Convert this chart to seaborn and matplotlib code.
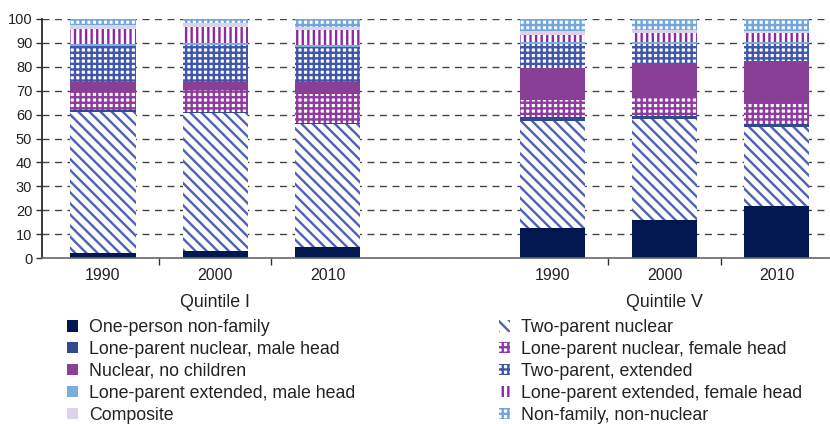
import numpy as np
import pandas as pd
import matplotlib
matplotlib.use("Agg")
import matplotlib.pyplot as plt
from matplotlib.patches import Patch
from matplotlib.transforms import blended_transform_factory
import seaborn as sns

# categories (bottom to top of each stack)
categories = [
    "One-person non-family",
    "Two-parent nuclear",
    "Lone-parent nuclear, male head",
    "Lone-parent nuclear, female head",
    "Nuclear, no children",
    "Two-parent, extended",
    "Lone-parent extended, male head",
    "Lone-parent extended, female head",
    "Composite",
    "Non-family, non-nuclear",
]
years = ["1990", "2000", "2010"]
groups = ["Quintile I", "Quintile V"]

# shares (%) per bar: Q1 1990, Q1 2000, Q1 2010, Q5 1990, Q5 2000, Q5 2010
one_person      = [2.0, 3.0, 4.8, 12.4, 16.0, 21.8]
two_parent_nuc  = [59.0, 57.5, 51.2, 45.1, 42.0, 32.9]
lone_nuc_male   = [0.8, 0.7, 0.6, 1.7, 1.5, 1.4]
lone_nuc_female = [8.2, 9.2, 12.2, 6.9, 7.5, 9.0]
nuclear_no_kids = [3.8, 3.4, 5.0, 13.6, 14.5, 17.4]
two_parent_ext  = [14.8, 15.2, 14.3, 9.7, 8.0, 6.9]
lone_ext_male   = [0.9, 0.9, 0.9, 1.0, 1.0, 0.9]
lone_ext_female = [6.5, 6.8, 6.2, 2.8, 3.5, 3.7]
composite       = [1.3, 1.5, 1.6, 1.6, 1.2, 1.1]
non_family      = [2.7, 1.8, 3.2, 5.2, 4.8, 4.9]

series = [one_person, two_parent_nuc, lone_nuc_male, lone_nuc_female,
          nuclear_no_kids, two_parent_ext, lone_ext_male, lone_ext_female,
          composite, non_family]

# look of each layer: (colour, hatch)
styles = [
    ("#02174F", None),
    ("#4B62B5", "\\\\\\"),
    ("#33498F", None),
    ("#8E3A9F", "+++"),
    ("#8A3F96", None),
    ("#3F56AA", "+++"),
    ("#7AAEDF", None),
    ("#8B2A9E", "|||"),
    ("#DDD2E8", None),
    ("#6FA6DC", "+++"),
]

slots = [f"{g}|{y}" for g in groups for y in years]
order = slots[:3] + ["gap"] + slots[3:]

df = pd.DataFrame(np.array(series).T, columns=categories)
df["slot"] = slots
cum = df[categories].cumsum(axis=1)
cum["slot"] = slots

sns.set_theme(style="white")
plt.rcParams["font.family"] = ["Liberation Sans", "DejaVu Sans"]
plt.rcParams["hatch.linewidth"] = 1.7

fig = plt.figure(figsize=(8.3, 4.24), dpi=100)
ax = fig.add_axes([42 / 830, 1 - 258 / 424, 1 - 42 / 830, 239 / 424])

# draw cumulative tops from the top layer down, each covering the one above
for cat, (col, hatch) in reversed(list(zip(categories, styles))):
    face = "white" if hatch else col
    sns.barplot(data=cum, x="slot", y=cat, order=order, ax=ax, width=0.58,
                color=face, facecolor=face, edgecolor=col, linewidth=0,
                hatch=hatch, errorbar=None, saturation=1)

ax.set_ylim(0, 100)
ax.set_xlim(-0.543, 6.474)
ax.set_yticks(np.arange(0, 101, 10))
ax.yaxis.grid(True, linestyle=(0, (5, 4)), color="#444444", linewidth=1.0)
ax.set_axisbelow(True)
ax.set_xlabel("")
ax.set_ylabel("")

ax.set_xticks([0, 1, 2, 4, 5, 6])
ax.set_xticklabels(years + years, fontsize=11.5, color="#222222")
ax.tick_params(axis="x", length=0, pad=7)
ax.set_xticks([0.5, 1.5, 4.5, 5.5], minor=True)
ax.tick_params(axis="x", which="minor", length=5, width=1, color="#333333",
               direction="out", bottom=True)
ax.tick_params(axis="y", length=4, width=1, color="#333333", direction="out",
               left=True, labelsize=10.5, labelcolor="#222222", pad=3)

for s in ["top", "right"]:
    ax.spines[s].set_visible(False)
ax.spines["left"].set_color("#222222")
ax.spines["bottom"].set_color("#666666")
ax.spines["bottom"].set_linewidth(1.2)

trans = blended_transform_factory(ax.transData, ax.transAxes)
ax.text(1, -0.188, groups[0], transform=trans, ha="center", va="center",
        fontsize=12.8, color="#222222")
ax.text(5, -0.188, groups[1], transform=trans, ha="center", va="center",
        fontsize=12.8, color="#222222")

handles = []
for cat, (col, hatch) in zip(categories, styles):
    if hatch:
        handles.append(Patch(facecolor="white", edgecolor=col, hatch=hatch,
                             linewidth=0, label=cat))
    else:
        handles.append(Patch(facecolor=col, edgecolor=col, linewidth=0,
                             label=cat))

left_idx = [0, 2, 4, 6, 8]
right_idx = [1, 3, 5, 7, 9]
leg_kw = dict(frameon=False, fontsize=12.8, handlelength=0.62,
              handleheight=0.62, handletextpad=0.62, labelspacing=0.28,
              borderaxespad=0, borderpad=0, labelcolor="#222222")
leg1 = fig.legend(handles=[handles[i] for i in left_idx], loc="upper left",
                  bbox_to_anchor=(67 / 830, 1 - 319 / 424), **leg_kw)
leg2 = fig.legend(handles=[handles[i] for i in right_idx], loc="upper left",
                  bbox_to_anchor=(499 / 830, 1 - 319 / 424), **leg_kw)

fig.savefig("out.png", dpi=100)
